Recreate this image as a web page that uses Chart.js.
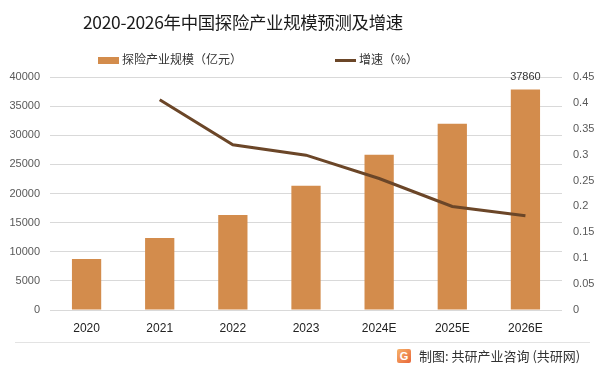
<!DOCTYPE html>
<html>
<head>
<meta charset="utf-8">
<script src="https://cdn.jsdelivr.net/npm/chart.js@4/dist/chart.umd.min.js"></script>
<style>
html,body{margin:0;padding:0;background:#fff;}
#wrap{position:relative;width:602px;height:374px;overflow:hidden;font-family:"Noto Sans CJK SC","Noto Sans",sans-serif;}
#c{position:absolute;left:0;top:0;}
#title{position:absolute;left:83px;top:9px;font-size:17.4px;color:#1a1a1a;white-space:nowrap;letter-spacing:-0.3px;}
.lg{position:absolute;top:50px;font-size:12px;color:#333;white-space:nowrap;line-height:18px;}
.sw{display:inline-block;vertical-align:middle;margin-right:3px;}
#sep{position:absolute;left:15px;top:342px;width:575px;height:1px;background:#e3e3e3;}
#foot{position:absolute;left:419px;top:346px;font-size:13px;color:#333;white-space:nowrap;line-height:20px;}
#logo{position:absolute;left:397px;top:349px;width:14px;height:14px;border-radius:2px;background:linear-gradient(135deg,#f7b36a,#e8663a);color:#fff;font:bold 11px "Liberation Sans",sans-serif;text-align:center;line-height:14px;}
</style>
</head>
<body>
<div id="wrap">
<canvas id="c" width="602" height="374"></canvas>
<div id="title">2020-2026年中国探险产业规模预测及增速</div>
<div class="lg" style="left:98px"><span class="sw" style="width:21px;height:7px;background:#d38c4c"></span>探险产业规模（亿元）</div>
<div class="lg" style="left:335px"><span class="sw" style="width:21px;height:3px;background:#6b4628"></span>增速（%）</div>
<div id="sep"></div>
<div id="logo">G</div>
<div id="foot">制图: 共研产业咨询 (共研网)</div>
</div>
<script>
const categories = ["2020","2021","2022","2023","2024E","2025E","2026E"];
const scaleValues = [8760, 12380, 16330, 21320, 26640, 31970, 37860];
const growthValues = [null, 0.406, 0.319, 0.299, 0.254, 0.2, 0.182];
const leftTicks = [0,5000,10000,15000,20000,25000,30000,35000,40000];
const rightTicks = [0,0.05,0.1,0.15,0.2,0.25,0.3,0.35,0.4,0.45];
const labelIndex = 6;

const tickFont = {family:"'Liberation Sans', 'DejaVu Sans', sans-serif", size:11};

const labelPlugin = {
  id:'lastLabel',
  afterDatasetsDraw(chart){
    const meta = chart.getDatasetMeta(1);
    const el = meta.data[labelIndex];
    const ctx = chart.ctx;
    ctx.save();
    ctx.font = "11px 'Liberation Sans', sans-serif";
    ctx.fillStyle = '#333';
    ctx.textAlign = 'center';
    ctx.textBaseline = 'bottom';
    ctx.fillText(String(scaleValues[labelIndex]), el.x, el.y - 7);
    ctx.restore();
  }
};

new Chart(document.getElementById('c'), {
  data:{
    labels:categories,
    datasets:[
      {type:'line', label:'增速（%）', data:growthValues, yAxisID:'y1', borderColor:'#6b4628', backgroundColor:'#6b4628', borderWidth:3, pointRadius:0, tension:0, spanGaps:false, order:0},
      {type:'bar', label:'探险产业规模（亿元）', data:scaleValues, yAxisID:'y', backgroundColor:'#d38c4c', categoryPercentage:0.8, barPercentage:0.5, order:1}
    ]
  },
  options:{
    responsive:false, animation:false,
    layout:{padding:{top:77,left:0,right:0,bottom:0}},
    plugins:{legend:{display:false}, title:{display:false}, tooltip:{enabled:false}},
    scales:{
      x:{
        grid:{display:false, drawTicks:false},
        border:{display:false},
        ticks:{color:'#222', font:{family:"'Liberation Sans', sans-serif", size:12}, padding:11, maxRotation:0},
        afterFit(s){ s.height = 64; }
      },
      y:{
        position:'left', min:0, max:40000,
        afterBuildTicks(s){ s.ticks = leftTicks.map(v=>({value:v})); },
        grid:{color:'#d9d9d9', drawTicks:false, lineWidth:1},
        border:{display:false},
        ticks:{color:'#595959', font:tickFont, padding:10, callback:v=>String(v)},
        afterFit(s){ s.width = 50; }
      },
      y1:{
        position:'right', min:0, max:0.45,
        afterBuildTicks(s){ s.ticks = rightTicks.map(v=>({value:v})); },
        grid:{display:false, drawTicks:false},
        border:{display:false},
        ticks:{color:'#595959', font:tickFont, padding:11, callback:v=>String(Math.round(v*100)/100)},
        afterFit(s){ s.width = 40; }
      }
    }
  },
  plugins:[labelPlugin]
});
</script>
</body>
</html>
